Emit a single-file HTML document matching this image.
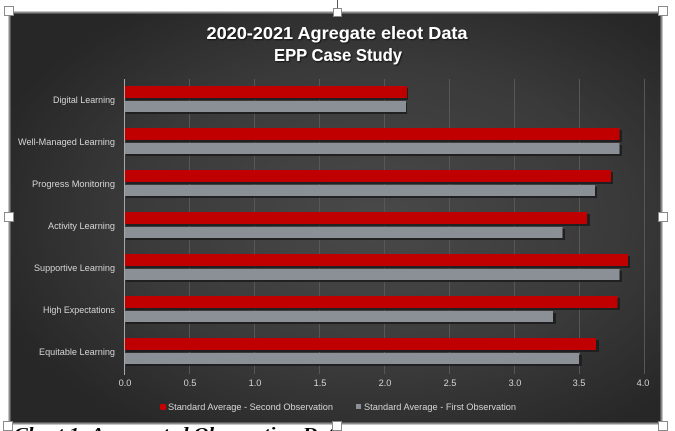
<!DOCTYPE html>
<html><head><meta charset="utf-8"><style>
html,body{margin:0;padding:0;background:#fff;width:675px;height:431px;overflow:hidden}
svg{display:block}
text{font-family:"Liberation Sans",sans-serif}
</style></head><body>
<svg width="675" height="431" viewBox="0 0 675 431" xmlns="http://www.w3.org/2000/svg">
<defs>
<radialGradient id="bg" cx="0.56" cy="0.5" r="0.62">
<stop offset="0" stop-color="#494949"/>
<stop offset="0.6" stop-color="#3a3a3a"/>
<stop offset="1" stop-color="#272727"/>
</radialGradient>
<filter id="sh" x="-5%" y="-20%" width="110%" height="160%">
<feDropShadow dx="1" dy="1" stdDeviation="0.8" flood-color="#000" flood-opacity="0.7"/>
</filter>
</defs>
<rect x="0" y="0" width="675" height="431" fill="#fff"/>
<!-- caption (cut) -->
<text x="14" y="439" font-family="Liberation Serif,serif" font-weight="bold" font-style="italic" font-size="17" fill="#000" textLength="330" lengthAdjust="spacingAndGlyphs" style="font-family:'Liberation Serif',serif">Chart 1: Aggregated Observation Data</text>
<!-- chart frame -->
<rect x="9.5" y="12.5" width="652" height="411" fill="url(#bg)" stroke="#8a8a8a" stroke-width="2"/>
<!-- title -->
<g fill="#fff" font-weight="bold" font-size="17.5" text-anchor="middle" filter="url(#sh)">
<text x="337" y="39" textLength="261" lengthAdjust="spacingAndGlyphs">2020-2021 Agregate eleot Data</text>
<text x="338" y="61" textLength="128" lengthAdjust="spacingAndGlyphs">EPP Case Study</text>
</g>
<!-- gridlines -->
<g stroke="#575757" stroke-width="1">
<line x1="189.5" y1="79" x2="189.5" y2="374"/>
<line x1="254.5" y1="79" x2="254.5" y2="374"/>
<line x1="319.5" y1="79" x2="319.5" y2="374"/>
<line x1="384.5" y1="79" x2="384.5" y2="374"/>
<line x1="449.5" y1="79" x2="449.5" y2="374"/>
<line x1="514.5" y1="79" x2="514.5" y2="374"/>
<line x1="579.5" y1="79" x2="579.5" y2="374"/>
<line x1="644.5" y1="79" x2="644.5" y2="374"/>
</g>
<!-- bars: x0=124.5, 130px per unit -->
<g>
<!-- shadows -->
<g fill="#1c1c1c" opacity="0.85">
<rect x="126" y="88" width="282" height="12"/><rect x="126" y="103" width="281" height="11"/>
<rect x="126" y="130" width="496" height="12"/><rect x="126" y="145" width="496" height="11"/>
<rect x="126" y="172" width="487" height="12"/><rect x="126" y="187" width="471" height="11"/>
<rect x="126" y="214" width="464" height="12"/><rect x="126" y="229" width="439" height="11"/>
<rect x="126" y="256" width="504" height="12"/><rect x="126" y="271" width="496" height="11"/>
<rect x="126" y="298" width="494" height="12"/><rect x="126" y="313" width="430" height="11"/>
<rect x="126" y="340" width="473" height="12"/><rect x="126" y="355" width="456" height="11"/>
</g>
<g fill="#c00000">
<rect x="125" y="86" width="282" height="12"/>
<rect x="125" y="128" width="494.5" height="12"/>
<rect x="125" y="170" width="486" height="12"/>
<rect x="125" y="212" width="462" height="12"/>
<rect x="125" y="254" width="503" height="12"/>
<rect x="125" y="296" width="492.5" height="12"/>
<rect x="125" y="338" width="471" height="12"/>
</g>
<g fill="#8b9096">
<rect x="125" y="101" width="281" height="11"/>
<rect x="125" y="143" width="494.5" height="11"/>
<rect x="125" y="185" width="470" height="11"/>
<rect x="125" y="227" width="437.5" height="11"/>
<rect x="125" y="269" width="494.5" height="11"/>
<rect x="125" y="311" width="428" height="11"/>
<rect x="125" y="353" width="454" height="11"/>
</g>
</g>
<!-- axis line -->
<line x1="124.5" y1="79" x2="124.5" y2="375" stroke="#a8a8a8" stroke-width="1"/>
<!-- category labels -->
<g fill="#d6d6d6" font-size="9.2" text-anchor="end">
<text x="115" y="103" textLength="62" lengthAdjust="spacingAndGlyphs">Digital Learning</text>
<text x="115" y="145" textLength="97" lengthAdjust="spacingAndGlyphs">Well-Managed Learning</text>
<text x="115" y="187" textLength="83" lengthAdjust="spacingAndGlyphs">Progress Monitoring</text>
<text x="115" y="229" textLength="67" lengthAdjust="spacingAndGlyphs">Activity Learning</text>
<text x="115" y="271" textLength="81" lengthAdjust="spacingAndGlyphs">Supportive Learning</text>
<text x="115" y="313" textLength="72" lengthAdjust="spacingAndGlyphs">High Expectations</text>
<text x="115" y="355" textLength="76" lengthAdjust="spacingAndGlyphs">Equitable Learning</text>
</g>
<!-- tick labels -->
<g fill="#d6d6d6" font-size="9.2" text-anchor="middle">
<text x="125" y="386">0.0</text>
<text x="190" y="386">0.5</text>
<text x="255" y="386">1.0</text>
<text x="320" y="386">1.5</text>
<text x="385" y="386">2.0</text>
<text x="450" y="386">2.5</text>
<text x="515" y="386">3.0</text>
<text x="579" y="386">3.5</text>
<text x="643" y="386">4.0</text>
</g>
<!-- legend -->
<rect x="160" y="404" width="6" height="6" fill="#d00000" rx="2"/>
<text x="168" y="410" fill="#d6d6d6" font-size="9.2" textLength="165" lengthAdjust="spacingAndGlyphs">Standard Average - Second Observation</text>
<rect x="356" y="404" width="5" height="5" fill="#8b9096"/>
<text x="364" y="410" fill="#d6d6d6" font-size="9.2" textLength="152" lengthAdjust="spacingAndGlyphs">Standard Average - First Observation</text>
<!-- selection handles -->
<line x1="337.5" y1="0" x2="337.5" y2="8" stroke="#555" stroke-width="1"/>
<g fill="#fff" stroke="#8a8a8a" stroke-width="1">
<rect x="4.5" y="6.5" width="9" height="9"/>
<rect x="333.5" y="8.5" width="8" height="8"/>
<rect x="658.5" y="6.5" width="9" height="9"/>
<rect x="4.5" y="212.5" width="9" height="9"/>
<rect x="658.5" y="212.5" width="9" height="9"/>
<rect x="3.5" y="421.5" width="9" height="9"/>
<rect x="332.5" y="421.5" width="9" height="9"/>
<rect x="658.5" y="421.5" width="9" height="9"/>
</g>
</svg>
</body></html>
